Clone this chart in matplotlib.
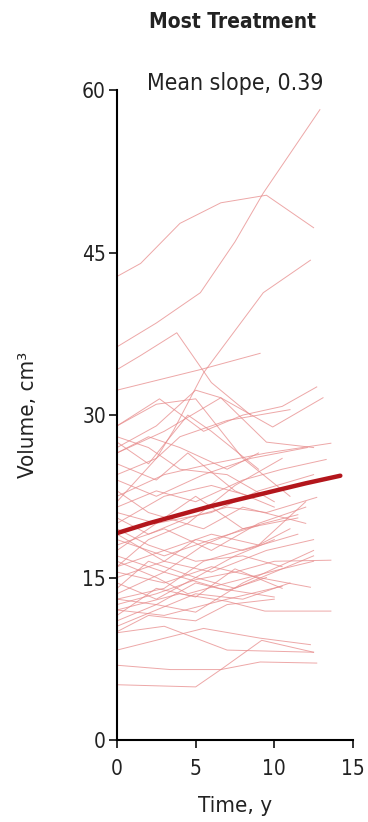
import matplotlib
matplotlib.use("Agg")
import matplotlib.pyplot as plt

# individual patient trajectories (time in years, volume in cm3)
traj_l = [
    ([0, 2.5, 5.3, 7.5, 9.3, 12.9], [36.3, 38.5, 41.3, 46.0, 50.5, 58.2]),
    ([0, 1.5, 4, 6.6, 9.5, 12.5], [42.8, 44.0, 47.7, 49.6, 50.3, 47.3]),
    ([0, 2.5, 3.6, 5.5, 9.3, 12.3], [22.0, 26.0, 28.6, 33.9, 41.3, 44.3]),
    ([0, 5.3, 9.1], [32.3, 34.2, 35.7]),
    ([0, 2.7, 5.5, 8, 10.5, 12.7], [29.0, 31.5, 28.5, 30.0, 30.8, 32.6]),
    ([0, 3, 6.6, 9.9, 13.1], [26.5, 28.5, 31.6, 28.9, 31.6]),
    ([0, 2.5, 5, 6.6, 9.5, 12.5], [27.0, 29.0, 32.3, 31.6, 27.5, 27.0]),
    ([0, 5, 6.6, 9.2, 12.5], [5.1, 4.9, 6.5, 9.2, 8.1]),
    ([0, 3.4, 6.6, 9.1, 12.7], [6.9, 6.5, 6.5, 7.2, 7.1]),
    ([0, 5.5, 9.1, 12.3], [8.3, 10.3, 9.4, 8.8]),
    ([0, 3, 7, 12.5], [9.9, 10.5, 8.3, 8.1]),
    ([0, 4, 7, 9.4, 13.6], [12.0, 13.5, 12.8, 11.9, 11.9]),
    ([0, 2.5, 5, 7.5, 10, 13.6], [12.5, 13.5, 14.8, 15.5, 16.5, 16.6]),
    ([0, 3, 6, 9, 12.3], [15.5, 14.5, 16.0, 15.0, 14.1]),
    ([0, 2.5, 5, 8, 11], [10.5, 12.0, 13.5, 13.0, 14.5]),
    ([0, 2, 5, 7.5, 10], [14.0, 16.5, 15.0, 17.0, 18.5]),
    ([0, 3, 5.5, 8, 11.5], [17.0, 15.5, 18.0, 19.5, 20.5]),
    ([0, 2.5, 5, 7.5, 10.5], [11.5, 14.0, 13.2, 15.8, 14.0]),
    ([0, 2, 4.5, 7, 9.5, 12.7], [20.5, 19.0, 20.5, 21.5, 21.0, 22.4]),
    ([0, 3, 6, 9, 12], [18.0, 19.5, 17.5, 20.0, 21.5]),
    ([0, 2.5, 5, 8, 10.5, 13.3], [21.5, 23.0, 22.0, 24.0, 25.0, 25.9]),
    ([0, 2.5, 5.5, 8.5, 12.1], [24.0, 22.5, 24.5, 26.0, 27.0]),
    ([0, 3, 6, 9.5, 13.6], [22.5, 24.5, 25.5, 26.5, 27.4]),
    ([0, 2, 4, 7, 10], [28.0, 27.0, 25.0, 24.5, 22.0]),
    ([0, 2.5, 4.5, 7.5, 10], [25.5, 24.0, 26.5, 23.0, 21.5]),
    ([0, 3, 6, 9, 11], [16.0, 17.5, 19.0, 18.0, 19.5]),
    ([0, 2.5, 5, 7, 9.5], [13.0, 12.5, 14.5, 13.8, 15.0]),
    ([0, 2, 5, 8, 10.5], [19.5, 18.0, 16.5, 17.0, 16.0]),
    ([0, 3, 5, 8, 11.5], [15.0, 16.5, 18.5, 17.5, 19.0]),
    ([0, 2.5, 6, 9, 12.5], [17.5, 20.0, 21.0, 23.0, 24.5]),
    ([0, 2, 4, 7, 9], [26.5, 28.0, 27.0, 25.0, 26.5]),
    ([0, 3, 7, 10.5], [12.0, 11.5, 13.0, 14.2]),
    ([0, 2.5, 5, 7.5, 10, 12.5], [14.5, 13.0, 15.0, 14.0, 15.5, 17.0]),
    ([0, 2, 5.5, 8, 12], [23.0, 21.0, 19.5, 21.5, 20.0]),
    ([0, 3, 6, 8.5], [20.0, 22.5, 23.5, 22.5]),
    ([0, 2.5, 4.5, 7, 10.5, 12.5], [16.5, 15.0, 13.5, 14.5, 15.8, 16.5]),
    ([0, 2, 5, 7, 10], [10.0, 11.5, 11.0, 12.5, 13.0]),
    ([0, 3, 6, 9], [18.5, 17.0, 18.5, 19.8]),
    ([0, 2.5, 4, 7, 11], [24.5, 26.0, 28.0, 29.5, 30.5]),
    ([0, 2.5, 5, 8, 11.5], [21.0, 20.0, 22.5, 19.5, 20.8]),
    ([0, 3, 6.5, 10], [13.5, 15.5, 14.0, 13.2]),
    ([0, 2, 4.5, 6, 9], [27.5, 25.5, 30.0, 28.5, 25.0]),
    ([0, 2.5, 5, 8, 11], [29.0, 31.0, 31.5, 26.0, 22.5]),
    ([0, 1.5, 3.8, 6, 8.5], [34.2, 35.5, 37.6, 33.0, 30.0]),
    ([0, 2.5, 5, 8, 12.5], [11.0, 12.5, 11.8, 14.5, 17.5]),
    ([0, 3, 6, 9.5, 12.5], [19.0, 16.5, 15.5, 17.5, 18.5]),
    ([0, 2, 4.5, 7.5, 10.5], [16.0, 18.5, 20.0, 23.5, 26.0]),
    ([0, 3, 5.5, 9, 12], [13.0, 14.0, 16.5, 18.0, 22.0]),
]

# mean trajectory
mean_t = [0, 2, 4, 6, 8, 10, 12, 14.2]
mean_v = [19.1, 20.0, 20.8, 21.6, 22.3, 23.0, 23.7, 24.4]

title_s = "Most Treatment"
slope_s = "Mean slope, 0.39"
xticks_l = [0, 5, 10, 15]
yticks_l = [0, 15, 30, 45, 60]

plt.rcParams["font.family"] = ["DejaVu Sans"]
plt.rcParams["font.stretch"] = "condensed"

fig = plt.figure(figsize=(3.68, 8.22), dpi=100)
ax = fig.add_axes([0.318, 0.0998, 0.641, 0.7905])

for t_l, v_l in traj_l:
    ax.plot(t_l, v_l, color="#e78a8a", linewidth=0.7, alpha=0.75)

ax.plot(mean_t, mean_v, color="#b3161c", linewidth=3.2, solid_capstyle="round")

ax.set_xlim(0, 15)
ax.set_ylim(0, 60)
ax.set_xticks(xticks_l)
ax.set_yticks(yticks_l)
ax.spines["top"].set_visible(False)
ax.spines["right"].set_visible(False)
ax.spines["left"].set_linewidth(1.5)
ax.spines["bottom"].set_linewidth(1.5)
ax.tick_params(axis="both", length=6, width=1.3, labelsize=15, color="#222222",
               labelcolor="#222222")
ax.tick_params(axis="y", pad=2)
ax.tick_params(axis="x", pad=8)

ax.set_xlabel("Time, y", fontsize=16, labelpad=12, color="#222222")
ax.set_ylabel("Volume, cm\u00b3", fontsize=16, labelpad=32, color="#222222")

fig.text(0.633, 0.973, title_s, fontsize=15, fontweight="bold",
         ha="center", va="center", color="#222222")
ax.text(0.5, 1.01, slope_s, transform=ax.transAxes, fontsize=16.5,
        ha="center", va="center", color="#222222")

fig.savefig("out.png", dpi=100)
